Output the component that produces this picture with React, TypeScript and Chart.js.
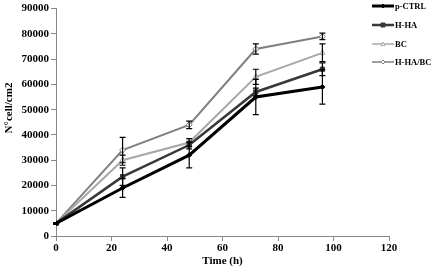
import React, { useEffect, useRef } from "react";
import { Chart, registerables } from "chart.js";

Chart.register(...registerables);

const times = [0, 24, 48, 72, 96];
const seriesNames = ["p-CTRL", "H-HA", "BC", "H-HA/BC"];
const pCtrl = [5000, 19000, 32000, 55000, 59000];
const pCtrlErr = [300, 3700, 5000, 7000, 6800];
const hHA = [5000, 23500, 36000, 57000, 66000];
const hHAErr = [300, 3500, 1500, 1500, 2500];
const bc = [5000, 30000, 37000, 63000, 72500];
const bcErr = [300, 2000, 1500, 3000, 3500];
const hHABC = [5000, 34000, 44000, 74000, 79000];
const hHABCErr = [300, 5000, 1500, 2000, 1300];
const xTicks = [0, 20, 40, 60, 80, 100, 120];
const yTicks = [0, 10000, 20000, 30000, 40000, 50000, 60000, 70000, 80000, 90000];

const colors = ["#000000", "#383838", "#a8a8a8", "#808080"];
const widths = [3, 2.5, 2, 2];
const styles: any[] = ["rectRot", "rect", "triangle", "rectRot"];
const fills = ["#000000", "#383838", "#ffffff", "#ffffff"];
const radii = [2.5, 3, 3, 3];
const values = [pCtrl, hHA, bc, hHABC];
const errors = [pCtrlErr, hHAErr, bcErr, hHABCErr];

const FONT = "'Liberation Serif', 'DejaVu Serif', serif";

export default function App() {
  const ref = useRef<HTMLCanvasElement | null>(null);
  useEffect(() => {
    const canvas = ref.current!;
    const extras = {
      id: "extras",
      afterDatasetsDraw(chart: any) {
        const ctx = chart.ctx;
        const xs = chart.scales.x;
        const ys = chart.scales.y;
        ctx.save();
        // error bars
        values.forEach((vals, si) => {
          ctx.strokeStyle = "#000";
          ctx.lineWidth = 1.2;
          vals.forEach((v, i) => {
            const e = errors[si][i];
            const px = xs.getPixelForValue(times[i]);
            const top = ys.getPixelForValue(v + e);
            const bot = ys.getPixelForValue(v - e);
            ctx.beginPath();
            ctx.moveTo(px, top);
            ctx.lineTo(px, bot);
            ctx.moveTo(px - 3, top);
            ctx.lineTo(px + 3, top);
            ctx.moveTo(px - 3, bot);
            ctx.lineTo(px + 3, bot);
            ctx.stroke();
          });
        });
        // y title
        ctx.fillStyle = "#000";
        ctx.font = "bold 11px " + FONT;
        ctx.translate(9, 108);
        ctx.rotate(-Math.PI / 2);
        ctx.textAlign = "center";
        ctx.textBaseline = "middle";
        ctx.fillText("N°cell/cm2", 0, 0);
        ctx.restore();
        // legend
        ctx.save();
        const rows = [6, 25, 44, 62];
        seriesNames.forEach((name, si) => {
          const y = rows[si];
          ctx.strokeStyle = colors[si];
          ctx.lineWidth = si < 2 ? widths[si] : 1.5;
          ctx.beginPath();
          ctx.moveTo(372, y);
          ctx.lineTo(394, y);
          ctx.stroke();
          ctx.lineWidth = 1;
          ctx.fillStyle = fills[si];
          ctx.strokeStyle = colors[si];
          const cx = 383;
          const r = 2;
          ctx.beginPath();
          if (styles[si] === "rect") {
            ctx.rect(cx - r, y - r, 2 * r, 2 * r);
          } else if (styles[si] === "triangle") {
            ctx.moveTo(cx, y - r);
            ctx.lineTo(cx + r, y + r * 0.8);
            ctx.lineTo(cx - r, y + r * 0.8);
            ctx.closePath();
          } else {
            ctx.moveTo(cx, y - r);
            ctx.lineTo(cx + r, y);
            ctx.lineTo(cx, y + r);
            ctx.lineTo(cx - r, y);
            ctx.closePath();
          }
          ctx.fill();
          ctx.stroke();
          ctx.fillStyle = "#000";
          ctx.font = "bold 8.5px " + FONT;
          ctx.textAlign = "left";
          ctx.textBaseline = "middle";
          ctx.fillText(name, 395, y + 0.5);
        });
        ctx.restore();
      },
    };
    const chart = new Chart(canvas, {
      type: "line",
      data: {
        datasets: seriesNames.map((name, si) => ({
          label: name,
          data: values[si].map((v, i) => ({ x: times[i], y: v })),
          borderColor: colors[si],
          borderWidth: widths[si],
          pointStyle: styles[si],
          pointRadius: radii[si],
          pointBackgroundColor: fills[si],
          pointBorderColor: colors[si],
          pointBorderWidth: 1,
          tension: 0,
          fill: false,
        })),
      },
      options: {
        animation: false,
        responsive: false,
        maintainAspectRatio: false,
        events: [],
        layout: { padding: { top: 5, right: 44, left: 0, bottom: 0 } },
        plugins: { legend: { display: false }, tooltip: { enabled: false } },
        scales: {
          x: {
            type: "linear",
            min: 0,
            max: 120,
            afterBuildTicks: (s: any) => {
              s.ticks = xTicks.map((v) => ({ value: v }));
            },
            afterFit: (s: any) => {
              s.height = 32;
            },
            ticks: {
              color: "#000",
              font: { family: FONT, size: 11, weight: "bold" },
              padding: 1,
              maxRotation: 0,
            },
            grid: { drawOnChartArea: false, tickLength: 5, color: "#888" },
            border: { color: "#888", width: 1 },
            title: {
              display: true,
              text: "Time (h)",
              color: "#000",
              font: { family: FONT, size: 11, weight: "bold" },
              padding: { top: 0, bottom: 0 },
            },
          },
          y: {
            type: "linear",
            min: 0,
            max: 90000,
            afterBuildTicks: (s: any) => {
              s.ticks = yTicks.map((v) => ({ value: v }));
            },
            afterFit: (s: any) => {
              s.width = 56;
            },
            ticks: {
              color: "#000",
              font: { family: FONT, size: 11, weight: "bold" },
              padding: 2,
              callback: (v: any) => String(v),
            },
            grid: { drawOnChartArea: false, tickLength: 5, color: "#888" },
            border: { color: "#888", width: 1 },
          },
        },
      },
      plugins: [extras],
    });
    return () => chart.destroy();
  }, []);
  return (
    <div style={{ position: "fixed", left: 0, top: 0, width: 433, height: 268, background: "#fff" }}>
      <canvas ref={ref} width={433} height={268} style={{ width: 433, height: 268, display: "block" }} />
    </div>
  );
}
